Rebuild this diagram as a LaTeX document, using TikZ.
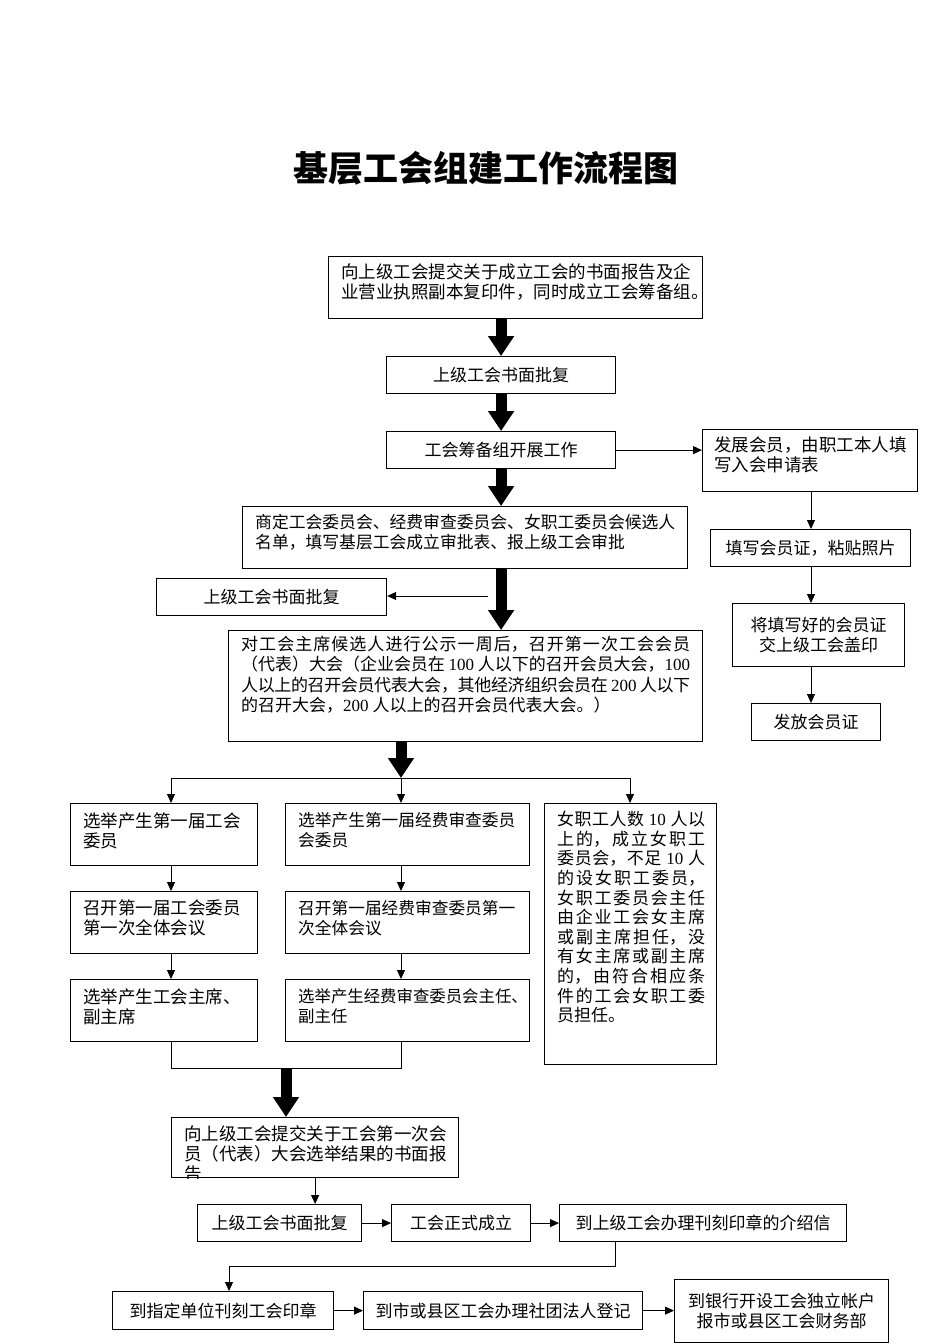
\documentclass[tikz,border=0pt]{standalone}
\usepackage{fontspec}
\setmainfont{Noto Sans CJK SC}
\newfontfamily\lat{Liberation Serif}
\usetikzlibrary{arrows.meta}
\XeTeXlinebreaklocale "zh"
\XeTeXlinebreakskip=0pt plus 1pt minus 1pt
\begin{document}
\begin{tikzpicture}[x=1pt,y=-1pt,
  box/.style={draw,line width=1.2pt,inner sep=0pt,anchor=north west,font=\fontsize{17}{20}\selectfont},
  txt/.style={inner sep=0pt,anchor=north west,align=left,font=\fontsize{17.5}{20}\selectfont},
  fat/.style={line width=11pt,-{Triangle[width=25pt,length=20pt]}},
  thin/.style={line width=0.9pt,-{Triangle[width=8pt,length=9pt]}},
  plain/.style={line width=0.9pt}]
\useasboundingbox (0,0) rectangle (950,1344);
% title
\node[font=\fontsize{35}{40}\selectfont\bfseries] (title) at (486,168) {基层工会组建工作流程图};
% main column
\node[box,minimum width=374pt,minimum height=62pt] (b1) at (328,256) {};
\node[txt] (t1) at ([xshift=13pt,yshift=-7pt]b1.north west) {向上级工会提交关于成立工会的书面报告及企\\业营业执照副本复印件，同时成立工会筹备组。};
\node[box,minimum width=229pt,minimum height=37pt] (b2) at (386,356) {上级工会书面批复};
\node[box,minimum width=229pt,minimum height=37pt] (b3) at (386,431) {工会筹备组开展工作};
\node[box,minimum width=445pt,minimum height=62pt] (b4) at (242,506) {};
\node[txt,font=\fontsize{16.8}{20}\selectfont] (t4) at ([xshift=13pt,yshift=-8pt]b4.north west) {商定工会委员会、经费审查委员会、女职工委员会候选人\\名单，填写基层工会成立审批表、报上级工会审批};
\node[box,minimum width=230pt,minimum height=37pt] (lb) at (156,578) {上级工会书面批复};
\coordinate (lbs) at (488,596);
\node[box,minimum width=474pt,minimum height=111pt] (b5) at (228,630) {};
\node[txt] (t5) at ([xshift=13pt,yshift=-6pt]b5.north west) {\parbox{449pt}{\noindent\fontsize{17}{20.3}\selectfont 对工会主席候选人进行公示一周后，召开第一次工会会员\linebreak （代表）大会（企业会员在 {\lat 100} 人以下的召开会员大会，{\lat 100}\linebreak 人以上的召开会员代表大会，其他经济组织会员在 {\lat 200} 人以下\linebreak 的召开大会，{\lat 200} 人以上的召开会员代表大会。）}};
% right column
\node[box,minimum width=215pt,minimum height=62pt] (r1) at (702,429) {};
\node[txt] (tr1) at ([xshift=12pt,yshift=-8pt]r1.north west) {发展会员，由职工本人填\\写入会申请表};
\node[box,minimum width=200pt,minimum height=37pt] (r2) at (710,529) {填写会员证，粘贴照片};
\node[box,minimum width=172pt,minimum height=63pt,align=center,font=\fontsize{17}{20}\selectfont] (r3) at (732,603) {将填写好的会员证\\交上级工会盖印};
\node[box,minimum width=129pt,minimum height=37pt] (r4) at (751,703) {发放会员证};
\coordinate (rx) at (811,0);
% branches
\coordinate (ja) at (171,778);
\coordinate (jb) at (401,778);
\coordinate (jc) at (630,778);
\node[box,minimum width=187pt,minimum height=62pt] (b6a) at (70,803) {};
\node[txt] (t6a) at ([xshift=13pt,yshift=-9pt]b6a.north west) {选举产生第一届工会\\委员};
\node[box,minimum width=244pt,minimum height=62pt] (b6b) at (285,803) {};
\node[txt,font=\fontsize{16.7}{20}\selectfont] (t6b) at ([xshift=13pt,yshift=-9pt]b6b.north west) {选举产生第一届经费审查委员\\会委员};
\node[box,minimum width=172pt,minimum height=261pt] (b6c) at (544,803) {};
\node[txt] (t6c) at ([xshift=13pt,yshift=-8pt]b6c.north west) {\parbox{148pt}{\noindent\fontsize{17}{19.6}\selectfont 女职工人数 {\lat 10} 人以\linebreak 上的，成立女职工\linebreak 委员会，不足 {\lat 10} 人\linebreak 的设女职工委员，\linebreak 女职工委员会主任\linebreak 由企业工会女主席\linebreak 或副主席担任，没\linebreak 有女主席或副主席\linebreak 的，由符合相应条\linebreak 件的工会女职工委\linebreak 员担任。}};
\node[box,minimum width=187pt,minimum height=62pt] (b7a) at (70,891) {};
\node[txt] (t7a) at ([xshift=13pt,yshift=-9pt]b7a.north west) {召开第一届工会委员\\第一次全体会议};
\node[box,minimum width=244pt,minimum height=62pt] (b7b) at (285,891) {};
\node[txt,font=\fontsize{16.7}{20}\selectfont] (t7b) at ([xshift=13pt,yshift=-9pt]b7b.north west) {召开第一届经费审查委员第一\\次全体会议};
\node[box,minimum width=187pt,minimum height=62pt] (b8a) at (70,979) {};
\node[txt] (t8a) at ([xshift=13pt,yshift=-9pt]b8a.north west) {选举产生工会主席、\\副主席};
\node[box,minimum width=244pt,minimum height=62pt] (b8b) at (285,979) {};
\node[txt,font=\fontsize{16.4}{20}\selectfont] (t8b) at ([xshift=13pt,yshift=-9pt]b8b.north west) {选举产生经费审查委员会主任、\\副主任};
\coordinate (ma) at (171,1068);
\coordinate (mb) at (401,1068);
\coordinate (mc) at (286,1068);
% report box
\node[box,minimum width=287pt,minimum height=60pt] (b9) at (171,1117) {};
\begin{scope}
\clip (b9.north west) rectangle (b9.south east);
\node[txt] (t9) at ([xshift=13pt,yshift=-8pt]b9.north west) {向上级工会提交关于工会第一次会\\员（代表）大会选举结果的书面报\\告};
\end{scope}
\node[box,minimum width=164pt,minimum height=37pt] (b10a) at (197,1204) {上级工会书面批复};
\node[box,minimum width=139pt,minimum height=37pt] (b10b) at (391,1204) {工会正式成立};
\node[box,minimum width=287pt,minimum height=37pt] (b10c) at (559,1204) {到上级工会办理刊刻印章的介绍信};
\coordinate (k1) at (615,1266);
\coordinate (k2) at (229,1266);
\node[box,minimum width=221pt,minimum height=38pt] (b11a) at (112,1291) {到指定单位刊刻工会印章};
\node[box,minimum width=279pt,minimum height=38pt] (b11b) at (363,1291) {到市或县区工会办理社团法人登记};
\node[box,minimum width=214pt,minimum height=63pt,align=center] (b11c) at (674,1279) {到银行开设工会独立帐户\\报市或县区工会财务部};
% fat arrows
\draw[fat] (b1.south -| b2.north) -- (b2.north);
\draw[fat] (b2.south) -- (b3.north);
\draw[fat] (b3.south) -- (b3.south |- b4.north);
\draw[fat] (b4.south -| b3.south) -- (b3.south |- b5.north);
\draw[fat] (b5.south -| jb) -- (jb);
\draw[fat] (mc) -- (mc |- b9.north);
% thin arrows
\draw[thin] (b3.east) -- (b3.east -| r1.west);
\draw[thin] (r1.south -| rx) -- (r2.north -| rx);
\draw[thin] (r2.south -| rx) -- (r3.north -| rx);
\draw[thin] (r3.south -| rx) -- (r4.north -| rx);
\draw[thin] (lbs) -- (lbs -| lb.east);
\draw[plain] (ja) -- (jc);
\draw[thin] (ja) -- (ja |- b6a.north);
\draw[thin] (jb) -- (jb |- b6b.north);
\draw[thin] (jc) -- (jc |- b6c.north);
\draw[thin] (b6a.south -| ja) -- (b7a.north -| ja);
\draw[thin] (b7a.south -| ja) -- (b8a.north -| ja);
\draw[thin] (b6b.south -| jb) -- (b7b.north -| jb);
\draw[thin] (b7b.south -| jb) -- (b8b.north -| jb);
\draw[plain] (b8a.south -| ja) -- (ma) -- (mb) -- (b8b.south -| jb);
\draw[thin] (b9.south) -- (b9.south |- b10a.north);
\draw[thin] (b10a.east) -- (b10b.west);
\draw[thin] (b10b.east) -- (b10c.west);
\draw[thin] (b10c.south -| k1) -- (k1) -- (k2) -- (k2 |- b11a.north);
\draw[thin] (b11a.east) -- (b11b.west);
\draw[thin] (b11b.east) -- (b11b.east -| b11c.west);
\end{tikzpicture}
\end{document}
